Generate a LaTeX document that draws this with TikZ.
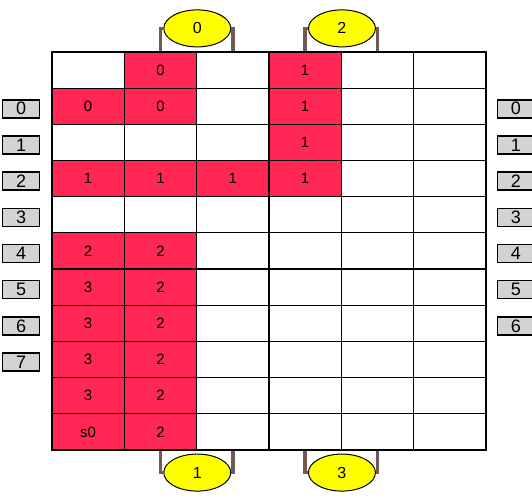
\documentclass[tikz,border=0pt]{standalone}
\usepackage{fontspec}
\setmainfont{Liberation Sans}
\usetikzlibrary{positioning, shapes.geometric}
\definecolor{cellred}{RGB}{255,40,85}
\definecolor{portyellow}{RGB}{255,255,0}
\definecolor{bracketbrown}{RGB}{115,88,84}
\definecolor{taggray}{RGB}{211,211,211}

\begin{document}
\begin{tikzpicture}[x=1pt, y=1pt,
    cell/.style={rectangle, draw=black, line width=1.2pt, minimum width=72.33pt, minimum height=36.18pt, inner sep=0pt, font=\fontsize{15}{17}\selectfont},
    filled/.style={cell, fill=cellred},
    port/.style={ellipse, draw=black, line width=1pt, fill=portyellow, minimum width=67pt, minimum height=37pt, inner sep=0pt, font=\fontsize{16}{18}\selectfont},
    tag/.style={rectangle, draw=black, line width=1.5pt, fill=taggray, minimum width=37pt, minimum height=18pt, inner sep=0pt, font=\fontsize{18}{20}\selectfont},
    bracket/.style={draw=bracketbrown, line width=3.5pt}
]
\useasboundingbox (0,0) rectangle (532,502);

% Parameters
\def\cellW{72.33}
\def\cellH{36.18}

% Empty grid
\foreach \r in {0,...,10} {
    \foreach \c in {0,...,5} {
        \node[cell] (c-\r-\c) at ({52+(\c+0.5)*\cellW}, {450-(\r+0.5)*\cellH}) {};
    }
}

% Occupied cells
\foreach \r/\c/\v in {0/1/0, 0/3/1, 1/0/0, 1/1/0, 1/3/1, 2/3/1, 3/0/1, 3/1/1, 3/2/1, 3/3/1,
        5/0/2, 5/1/2, 6/0/3, 6/1/2, 7/0/3, 7/1/2, 8/0/3, 8/1/2, 9/0/3, 9/1/2, 10/0/s0, 10/1/2} {
    \node[filled] (f-\r-\c) at (c-\r-\c) {\v};
}

% Ports on top and bottom
\node[port, above=4pt of c-0-1.north east] (p0) {0};
\node[port, above=4pt of c-0-3.north east] (p2) {2};
\node[port, below=3pt of c-10-1.south east] (p1) {1};
\node[port, below=3pt of c-10-3.south east] (p3) {3};

% Brackets holding the ports
\foreach \p/\a/\b/\r/\side in {p0/1/2/0/north, p2/3/4/0/north, p1/1/2/10/south, p3/3/4/10/south} {
    \draw[bracket] (c-\r-\a.\side) |- (\p.west);
    \draw[bracket] (c-\r-\b.\side) |- (\p.east);
}

% Row tags, left and right
\foreach \n in {0,...,7} {
    \pgfmathtruncatemacro\row{\n+1}
    \node[tag, left=11pt of c-\row-0.west, yshift=-2.5pt] (l\n) {\n};
}
\foreach \n in {0,...,6} {
    \pgfmathtruncatemacro\row{\n+1}
    \node[tag, right=10pt of c-\row-5.east, yshift=-2.5pt] (r\n) {\n};
}

\end{tikzpicture}
\end{document}
